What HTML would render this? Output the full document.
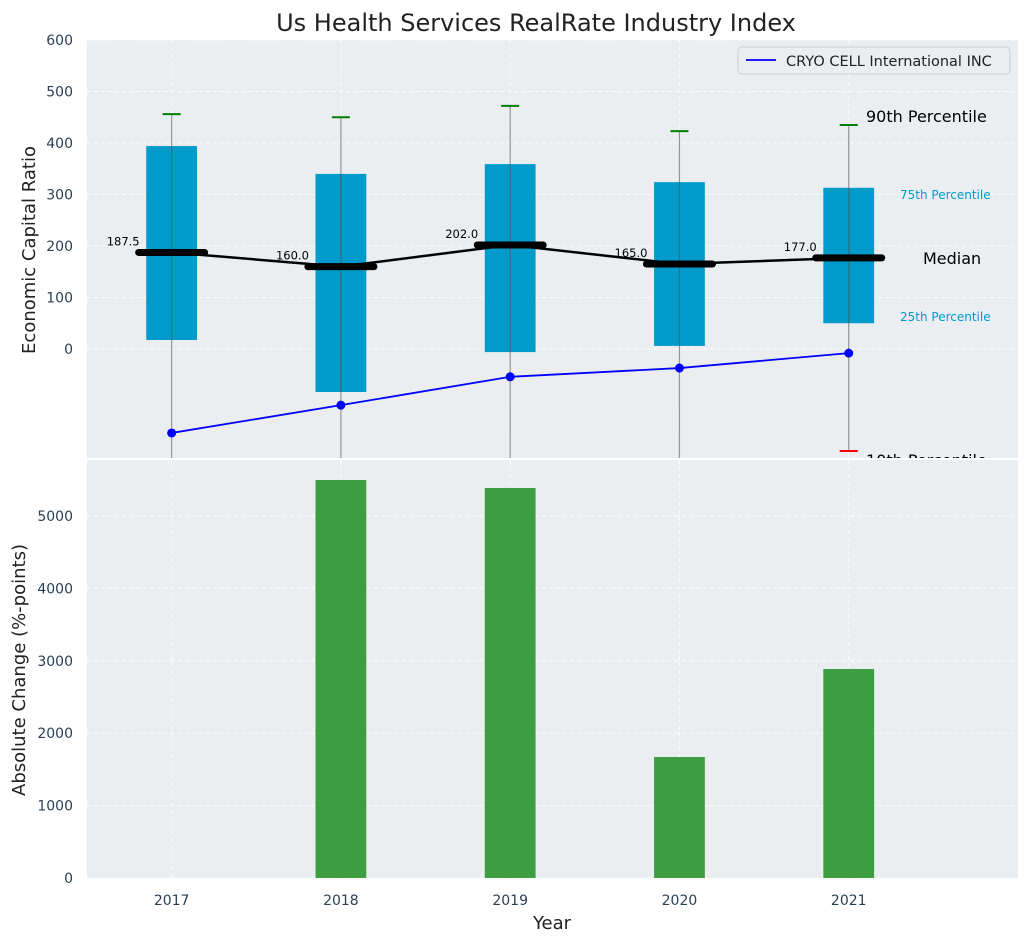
<!DOCTYPE html>
<html><head><meta charset="utf-8"><style>
body{margin:0;background:#fff;}
svg{display:block;font-family:"DejaVu Sans","Liberation Sans",sans-serif;}
</style></head><body>
<svg id="c" width="1026" height="942" xmlns="http://www.w3.org/2000/svg"></svg>
<script>
const years=[2017,2018,2019,2020,2021];
const q1=[17.5,-83.5,-6,6,50];
const q3=[394,340,359,324,313];
const p90=[456,450,472,423,435];
const p10=[-260,-260,-260,-260,-198];
const medians=[187.5,160,202,165,177];
const company=[-163,-109,-54,-37,-8];
const changes=[0,5497,5387,1671,2887];
const topTicks=[0,100,200,300,400,500,600];
const botTicks=[0,1000,2000,3000,4000,5000];
const NS="http://www.w3.org/2000/svg";
const svg=document.getElementById('c');
function el(t,a,txt,p){const e=document.createElementNS(NS,t);for(const k in a)e.setAttribute(k,a[k]);if(txt!=null)e.textContent=txt;(p||svg).appendChild(e);return e;}
const X0=87,X1=1018;
const x=v=>X0+(v-2016.5)/(5.5)*(X1-X0);
const yT=v=>349-v*0.515;
const yB=v=>878-v*0.0724;
const topG=el('g',{});


el('rect',{x:X0,y:40,width:X1-X0,height:418,fill:'#eaeef0'},null,topG);
const defs=el('defs',{});
const cp=el('clipPath',{id:'ct'},null,defs);
el('rect',{x:X0,y:40,width:X1-X0,height:418},null,cp);
const g=el('g',{'clip-path':'url(#ct)'},null,topG);
topTicks.forEach(t=>{el('line',{x1:X0,x2:X1,y1:yT(t),y2:yT(t),stroke:'#fff','stroke-dasharray':'4,3','stroke-opacity':0.8},null,g);
 const l=el('text',{x:X0-14,y:yT(t)+5,'text-anchor':'end','font-size':14,fill:'#2a3f55'},t,topG);
 
 });
years.forEach(yr=>el('line',{x1:x(yr),x2:x(yr),y1:40,y2:458,stroke:'#fff','stroke-dasharray':'4,3','stroke-opacity':0.8},null,g));
const bw=0.3/5.5*(X1-X0);
years.forEach((yr,i)=>{const cx=x(yr);
 const b=el('rect',{x:cx-bw/2,y:yT(q3[i]),width:bw,height:yT(q1[i])-yT(q3[i]),fill:'#009acb'},null,g);
 
 
 el('line',{x1:cx,x2:cx,y1:yT(p90[i]),y2:yT(p10[i]),stroke:'#555','stroke-opacity':0.6,'stroke-width':1.2},null,g);
 el('line',{x1:cx-9,x2:cx+9,y1:yT(p90[i]),y2:yT(p90[i]),stroke:'green','stroke-width':2},null,g);
 el('line',{x1:cx-9,x2:cx+9,y1:yT(p10[i]),y2:yT(p10[i]),stroke:'red','stroke-width':2},null,g);
});
el('polyline',{points:years.map((yr,i)=>x(yr)+','+yT(medians[i])).join(' '),fill:'none',stroke:'#000','stroke-width':2.5},null,g);
years.forEach((yr,i)=>{const cx=x(yr);
 const m=el('line',{x1:cx-33,x2:cx+33,y1:yT(medians[i]),y2:yT(medians[i]),stroke:'#000','stroke-width':7,'stroke-linecap':'round'},null,g);
 
 
 el('text',{x:cx-32,y:yT(medians[i])-7,'text-anchor':'end','font-size':11.5,fill:'#000'},medians[i].toFixed(1),g);});
el('polyline',{points:years.map((yr,i)=>x(yr)+','+yT(company[i])).join(' '),fill:'none',stroke:'blue','stroke-width':1.8},null,g);
years.forEach((yr,i)=>{const p=el('circle',{cx:x(yr),cy:yT(company[i]),r:4.5,fill:'blue'},null,g);
 
 });
el('text',{x:866,y:122,'font-size':16,fill:'#000'},'90th Percentile',topG);
el('text',{x:900,y:199,'font-size':12,fill:'#009acb'},'75th Percentile',topG);
el('text',{x:923,y:264,'font-size':16,fill:'#000'},'Median',topG);
el('text',{x:900,y:321,'font-size':12,fill:'#009acb'},'25th Percentile',topG);
el('text',{x:866,y:466,'font-size':16,fill:'#000'},'10th Percentile',topG);
const lg=el('g',{});


el('rect',{x:738,y:47,width:272,height:27,rx:4,fill:'#eaeef0',stroke:'#ccc'},null,lg);
el('line',{x1:746,x2:776,y1:60,y2:60,stroke:'blue','stroke-width':1.8},null,lg);
el('text',{x:786,y:66,'font-size':14.5,fill:'#222'},'CRYO CELL International INC',lg);
const ttl=el('text',{x:536,y:31,'text-anchor':'middle','font-size':24,fill:'#222'},'Us Health Services RealRate Industry Index');


el('text',{x:35,y:250,'text-anchor':'middle','font-size':18,fill:'#222',transform:'rotate(-90 35 250)'},'Economic Capital Ratio');
const bot=el('g',{});


el('rect',{x:0,y:458,width:X1,height:2,fill:'#fff'},null,bot);
el('rect',{x:X0,y:460,width:X1-X0,height:418,fill:'#eaeef0'},null,bot);
botTicks.forEach(v=>{el('line',{x1:X0,x2:X1,y1:yB(v),y2:yB(v),stroke:'#fff','stroke-dasharray':'4,3','stroke-opacity':0.8},null,bot);
 el('text',{x:X0-14,y:yB(v)+5,'text-anchor':'end','font-size':14,fill:'#2a3f55'},v,bot);});
years.forEach((yr,i)=>{el('line',{x1:x(yr),x2:x(yr),y1:460,y2:878,stroke:'#fff','stroke-dasharray':'4,3','stroke-opacity':0.8},null,bot);
 const b=el('rect',{x:x(yr)-bw/2,y:yB(changes[i]),width:bw,height:878-yB(changes[i]),fill:'#2e9632','fill-opacity':0.92},null,bot);
 
 
 el('text',{x:x(yr),y:905,'text-anchor':'middle','font-size':14,fill:'#2a3f55'},yr,bot);});
el('text',{x:552,y:929,'text-anchor':'middle','font-size':18,fill:'#222'},'Year',bot);
el('text',{x:25,y:670,'text-anchor':'middle','font-size':18,fill:'#222',transform:'rotate(-90 25 670)'},'Absolute Change (%-points)',bot);
</script>
</body></html>
